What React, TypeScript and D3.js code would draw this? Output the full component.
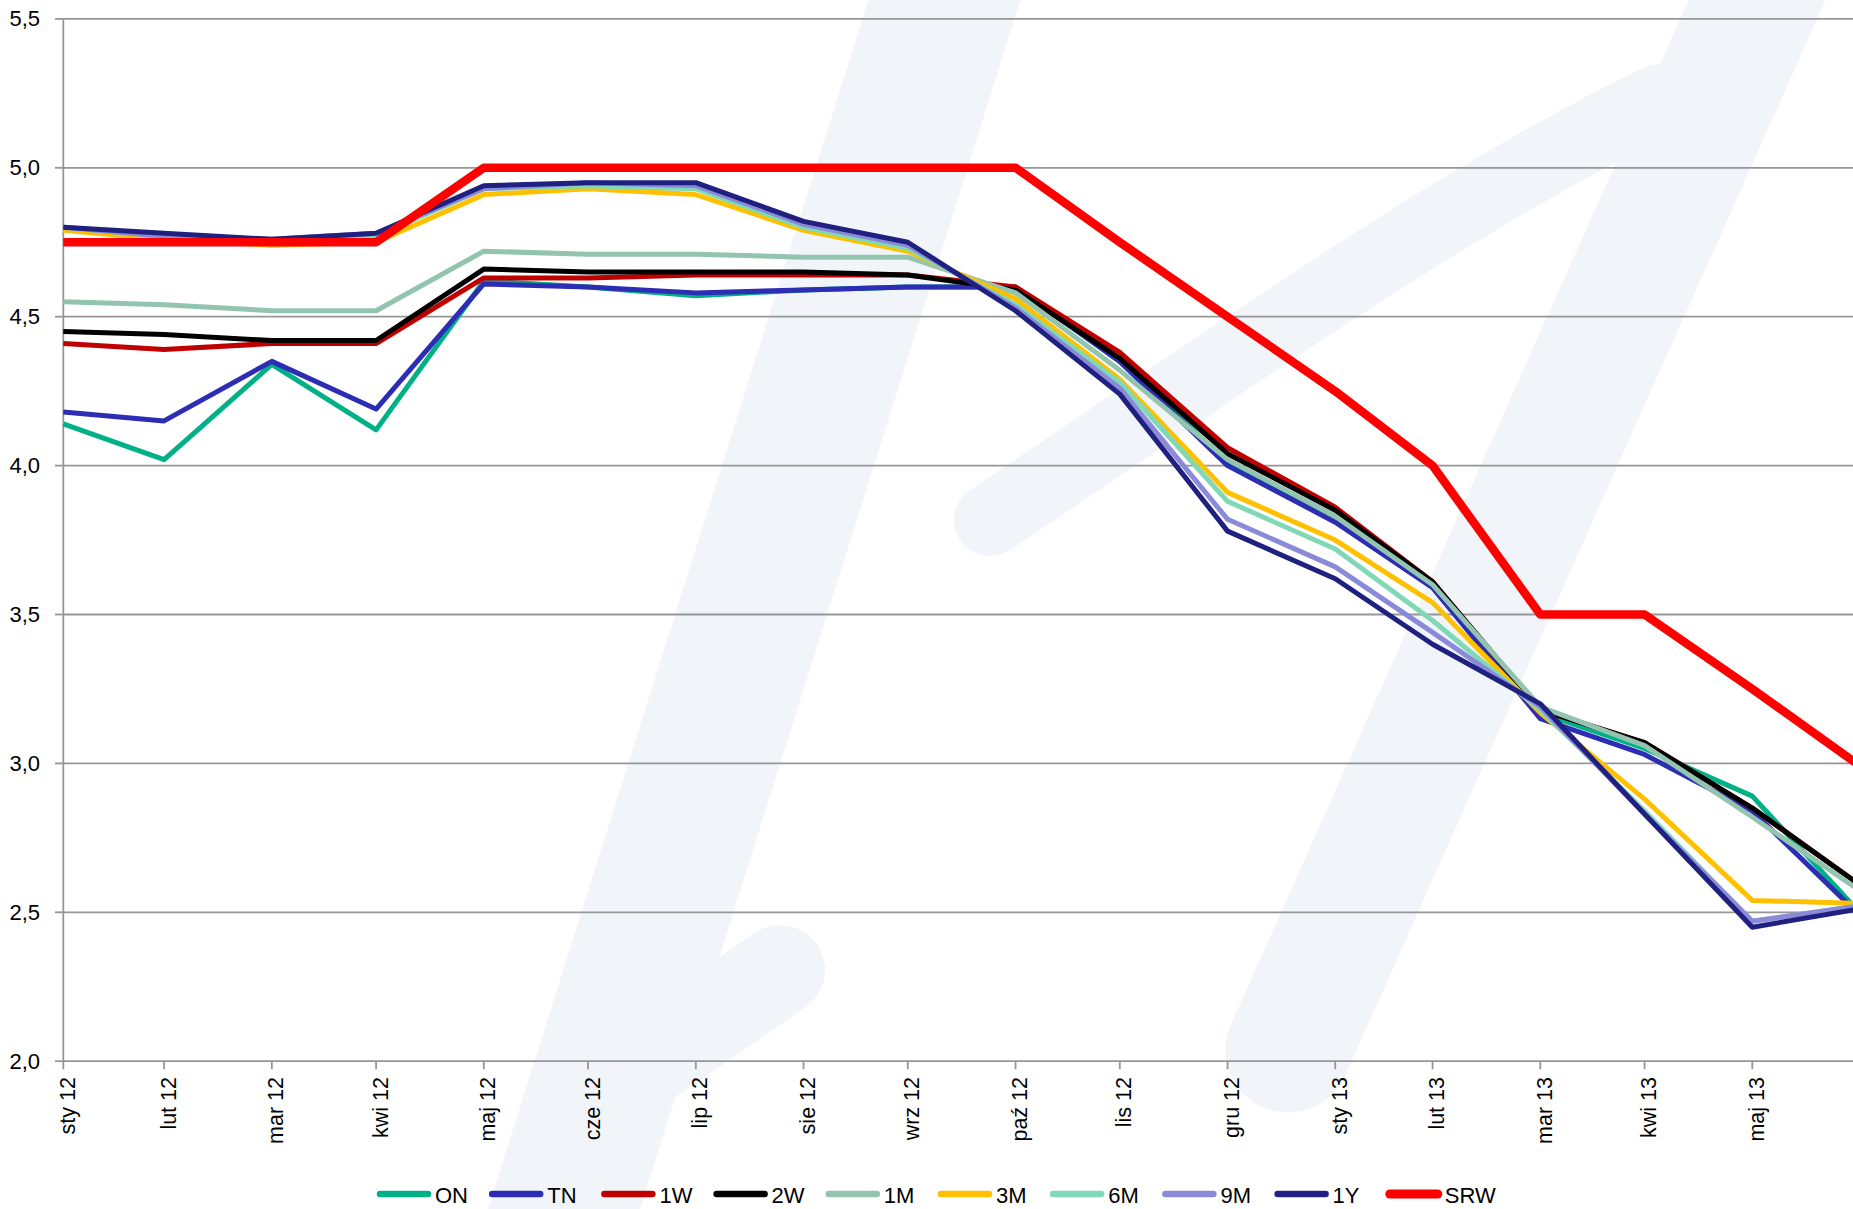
import React from "react";
import * as d3 from "d3";

const W = 1853;
const H = 1209;

const monthLabels = [
  "sty 12", "lut 12", "mar 12", "kwi 12", "maj 12", "cze 12", "lip 12", "sie 12", "wrz 12",
  "paź 12", "lis 12", "gru 12", "sty 13", "lut 13", "mar 13", "kwi 13", "maj 13", "cze 13",
];
// month-end dates (date axis)
const monthDates = monthLabels.map((_, i) => new Date(2012, i + 1, 0));

const yTicks = [2.0, 2.5, 3.0, 3.5, 4.0, 4.5, 5.0, 5.5];

const seriesNames = ["ON", "TN", "1W", "2W", "1M", "3M", "6M", "9M", "1Y", "SRW"];
const seriesColors = ["#00b086", "#2c2cb4", "#c00000", "#000000", "#93c4af", "#ffc000", "#80d8b6", "#8a8ad8", "#202080", "#ff0000"];

const ON = [4.14, 4.02, 4.34, 4.12, 4.62, 4.60, 4.57, 4.59, 4.60, 4.60, 4.35, 4.01, 3.83, 3.60, 3.17, 3.05, 2.89, 2.51];
const TN = [4.18, 4.15, 4.35, 4.19, 4.61, 4.60, 4.58, 4.59, 4.60, 4.60, 4.35, 4.00, 3.81, 3.59, 3.15, 3.03, 2.84, 2.50];
const W1 = [4.41, 4.39, 4.41, 4.41, 4.63, 4.63, 4.64, 4.64, 4.64, 4.60, 4.38, 4.06, 3.86, 3.61, 3.18, 3.07, 2.85, 2.60];
const W2 = [4.45, 4.44, 4.42, 4.42, 4.66, 4.65, 4.65, 4.65, 4.64, 4.59, 4.36, 4.04, 3.85, 3.61, 3.18, 3.07, 2.85, 2.60];
const M1 = [4.55, 4.54, 4.52, 4.52, 4.72, 4.71, 4.71, 4.70, 4.70, 4.58, 4.32, 4.02, 3.83, 3.60, 3.19, 3.06, 2.82, 2.58];
const M3 = [4.79, 4.76, 4.74, 4.75, 4.91, 4.93, 4.91, 4.79, 4.72, 4.56, 4.29, 3.91, 3.75, 3.54, 3.17, 2.88, 2.54, 2.53];
const M6 = [4.80, 4.77, 4.75, 4.77, 4.93, 4.94, 4.93, 4.80, 4.73, 4.54, 4.28, 3.88, 3.72, 3.48, 3.18, 2.84, 2.47, 2.52];
const M9 = [4.80, 4.77, 4.76, 4.78, 4.93, 4.95, 4.94, 4.81, 4.74, 4.53, 4.26, 3.82, 3.66, 3.44, 3.19, 2.83, 2.47, 2.52];
const Y1 = [4.80, 4.78, 4.76, 4.78, 4.94, 4.95, 4.95, 4.82, 4.75, 4.52, 4.24, 3.78, 3.62, 3.40, 3.20, 2.83, 2.45, 2.51];
const SRW = [4.75, 4.75, 4.75, 4.75, 5.0, 5.0, 5.0, 5.0, 5.0, 5.0, 4.75, 4.5, 4.25, 4.0, 3.5, 3.5, 3.25, 3.0];

const seriesValues = [ON, TN, W1, W2, M1, M3, M6, M9, Y1, SRW];

const FONT = "'Liberation Sans', Arial, sans-serif";

export default function App() {
  const x = d3.scaleTime()
    .domain([new Date(2012, 0, 31), new Date(2013, 4, 31)])
    .range([63.3, 1752.3]);
  const y = d3.scaleLinear().domain([2, 5.5]).range([1061.2, 18.9]);

  const line = d3.line<number>()
    .x((_, i) => x(monthDates[i]))
    .y((d) => y(d));

  const x0 = x.range()[0];
  const yBase = y(2);

  const legendStart = 377;
  const legendStep = 112.2;
  const legendY = 1195;

  return (
    <svg
      width={W}
      height={H}
      viewBox={`0 0 ${W} ${H}`}
      style={{ position: "absolute", left: 0, top: 0, background: "#fff" }}
      fontFamily={FONT}
    >
      {/* watermark */}
      <g fill="none" stroke="#f1f4f9" strokeLinecap="round">
        <path d="M548,1260 L957,-40" strokeWidth={145} />
        <path d="M1288,1050 L1775,-40" strokeWidth={125} />
        <path d="M990,520 C1200,380 1450,200 1660,100" strokeWidth={72} />
        <path d="M620,1080 C680,1040 730,1005 780,970" strokeWidth={90} />
      </g>

      {/* gridlines */}
      {yTicks.map((t) => (
        <g key={t}>
          {t > 2 && (
            <line x1={x0} x2={W} y1={y(t)} y2={y(t)} stroke="#969696" strokeWidth={1.8} />
          )}
          <line x1={55} x2={x0} y1={y(t)} y2={y(t)} stroke="#969696" strokeWidth={1.8} />
          <text
            x={40}
            y={y(t)}
            textAnchor="end"
            dominantBaseline="central"
            fontSize={22}
            fill="#000"
          >
            {d3.format(".1f")(t).replace(".", ",")}
          </text>
        </g>
      ))}

      {/* axes */}
      <line x1={x0} x2={x0} y1={y(5.5)} y2={yBase} stroke="#969696" strokeWidth={1.8} />
      <line x1={x0} x2={W} y1={yBase} y2={yBase} stroke="#969696" strokeWidth={1.8} />
      {monthDates.map((d, i) => {
        const xx = x(d);
        if (xx > W - 10) return null;
        return (
          <g key={monthLabels[i]}>
            <line x1={xx} x2={xx} y1={yBase} y2={yBase + 8} stroke="#969696" strokeWidth={1.8} />
            <text
              transform={`translate(${xx + 11.5},${1077}) rotate(-90)`}
              textAnchor="end"
              fontSize={21.5}
              fill="#000"
            >
              {monthLabels[i]}
            </text>
          </g>
        );
      })}

      {/* series */}
      <g fill="none" strokeLinejoin="round" strokeLinecap="butt">
        {seriesValues.map((vals, si) => (
          <path
            key={seriesNames[si]}
            d={line(vals) || ""}
            stroke={seriesColors[si]}
            strokeWidth={seriesNames[si] === "SRW" ? 8.5 : 5}
          />
        ))}
      </g>

      {/* legend */}
      {seriesNames.map((n, i) => {
        const lx = legendStart + i * legendStep;
        return (
          <g key={n}>
            <line
              x1={lx + 3}
              x2={lx + 51}
              y1={legendY - 1}
              y2={legendY - 1}
              stroke={seriesColors[i]}
              strokeWidth={n === "SRW" ? 9 : 6.5}
              strokeLinecap="round"
            />
            <text x={lx + 58} y={legendY + 8} fontSize={22} fill="#000">
              {n}
            </text>
          </g>
        );
      })}
    </svg>
  );
}
